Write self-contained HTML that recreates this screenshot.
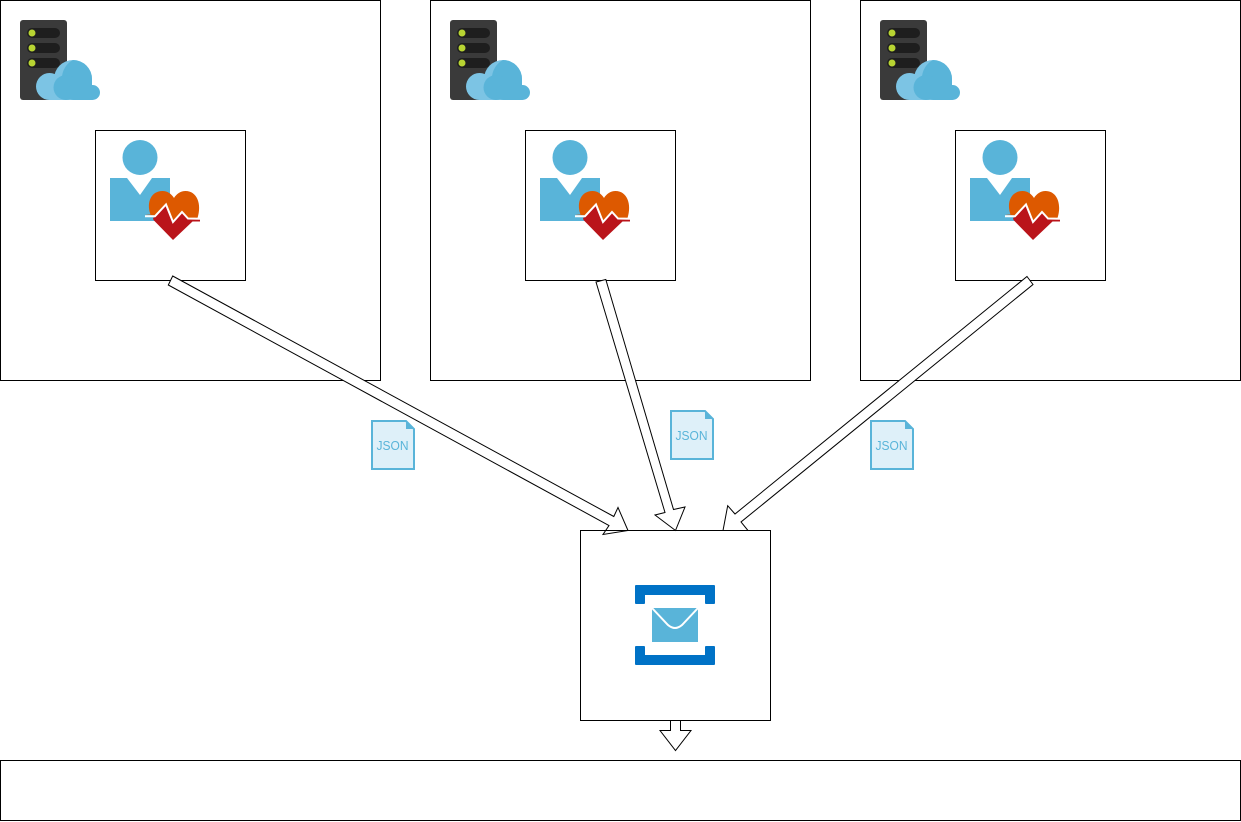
<!DOCTYPE html>
<html>
<head>
<meta charset="utf-8">
<style>
html,body{margin:0;padding:0;background:#fff;width:1241px;height:822px;overflow:hidden}
svg{display:block}
.b{fill:#fff;stroke:#000;stroke-width:1}
.n{fill:none;stroke:#000;stroke-width:1}
.a{fill:#fff;stroke:#000;stroke-width:1;stroke-linejoin:miter}
.j{font-family:"Liberation Sans",sans-serif;font-size:13px;fill:#59b4d9;text-anchor:middle}
</style>
</head>
<body>
<svg width="1241" height="822" viewBox="0 0 1241 822" xmlns="http://www.w3.org/2000/svg">
<defs>
<g id="srv">
<rect x="20" y="20" width="47" height="80" rx="3" fill="#3a3a3a"/>
<rect x="27" y="28" width="33" height="10" rx="5" fill="#1e1e1e"/>
<rect x="27" y="43" width="33" height="10" rx="5" fill="#1e1e1e"/>
<rect x="27" y="58" width="33" height="10" rx="5" fill="#1e1e1e"/>
<circle cx="32" cy="33" r="3.500" fill="#b8d432"/>
<circle cx="32" cy="48" r="3.500" fill="#b8d432"/>
<circle cx="32" cy="63" r="3.500" fill="#b8d432"/>
<circle cx="49.500" cy="86.500" r="13.500" fill="#7cc4e4"/>
<circle cx="73" cy="79" r="19" fill="#7cc4e4"/>
<rect x="49" y="85" width="30" height="15" fill="#7cc4e4"/>
<path d="M73 60 A19 19 0 0 1 92 79 L92 90 L66 90 L62 78 C62 70 67 63 73 60 Z" fill="#59b4d9"/>
<circle cx="66" cy="87.500" r="12.500" fill="#59b4d9"/>
<rect x="66" y="85" width="34" height="15" rx="7.500" fill="#59b4d9"/>
</g>
<g id="doc">
<path d="M110 178 H127 L140 195 L152 178 H170 V221 H110 Z" fill="#59b4d9"/>
<circle cx="140" cy="157.500" r="17.500" fill="#59b4d9"/>
<path d="M145 214.500 L150.500 214.500 C146 202 151.500 191 162.500 191 C167.500 191 171.500 194 174 198 C176.500 194 180.500 191 185.500 191 C197 191 202 204 197.500 218 L188 218 L182 211 L173 221 L166 204 L155 215.500 Z" fill="#dd5900"/>
<path d="M153 218 L155 217 L166 205 L173 222 L182 212 L188 218.500 L200 219 V221.500 H192.500 L173 240 L153.500 220 Z" fill="#ba141a"/>
<path d="M145 216.200 L155 216.200 L166 204.500 L173 222 L182 212 L188 218.500 L200 218.800" fill="none" stroke="#fff" stroke-width="2"/>
</g>
<g id="js">
<path d="M1 1 H35 L43 9 V49 H1 Z" fill="#def0f9" stroke="#59b4d9" stroke-width="2"/>
<path d="M35 0 L44 9 H35 Z" fill="#59b4d9"/>
</g>
</defs>

<rect class="b" x="0.500" y="0.500" width="380" height="380"/>
<rect class="b" x="430.500" y="0.500" width="380" height="380"/>
<rect class="b" x="860.500" y="0.500" width="380" height="380"/>
<rect class="b" x="95.500" y="130.500" width="150" height="150"/>
<rect class="b" x="525.500" y="130.500" width="150" height="150"/>
<rect class="b" x="955.500" y="130.500" width="150" height="150"/>
<rect class="b" x="0.500" y="760.500" width="1240" height="60"/>
<rect class="b" x="580.500" y="530.500" width="190" height="190"/>

<use href="#srv"/>
<use href="#srv" x="430"/>
<use href="#srv" x="860"/>
<use href="#doc"/>
<use href="#doc" x="430"/>
<use href="#doc" x="860"/>

<path d="M636 586 H714 V603 H706 V594 H644 V603 H636 Z" fill="#0072c6" stroke="#0072c6" stroke-width="2" stroke-linejoin="round"/>
<path d="M636 664 H714 V647 H706 V656 H644 V647 H636 Z" fill="#0072c6" stroke="#0072c6" stroke-width="2" stroke-linejoin="round"/>
<rect x="652" y="608" width="46" height="34" fill="#59b4d9"/>
<path d="M652 608 L668 625 Q675 631 682 625 L698 608" fill="none" stroke="#fff" stroke-width="2"/>

<path class="a" d="M172.700 276 L168.300 285 L609 525.500 L603 534.500 L628 530.500 L618 507.500 L613.800 516.500 Z"/>
<line class="n" x1="595" y1="530.500" x2="628" y2="530.500"/>
<path class="a" d="M596 282 L605.800 279.500 L673.500 509.500 L685 507 L675.500 530.500 L655 515 L665 512.500 Z"/>
<path class="a" d="M1027 276.500 L1033 284.500 L741 522 L748 530.500 L723 530.500 L727.700 505.700 L735 514 Z"/>
<path class="a" d="M670.500 720.500 H680.500 V730.500 H691 L675.500 750.500 L660 730.500 H670.500 Z"/>

<use href="#js" x="371" y="420"/>
<use href="#js" x="670" y="410"/>
<use href="#js" x="870" y="420"/>
<text class="j" x="392.500" y="450" textLength="32" lengthAdjust="spacingAndGlyphs">JSON</text>
<text class="j" x="691.500" y="440" textLength="32" lengthAdjust="spacingAndGlyphs">JSON</text>
<text class="j" x="891.500" y="450" textLength="32" lengthAdjust="spacingAndGlyphs">JSON</text>
</svg>
</body>
</html>
